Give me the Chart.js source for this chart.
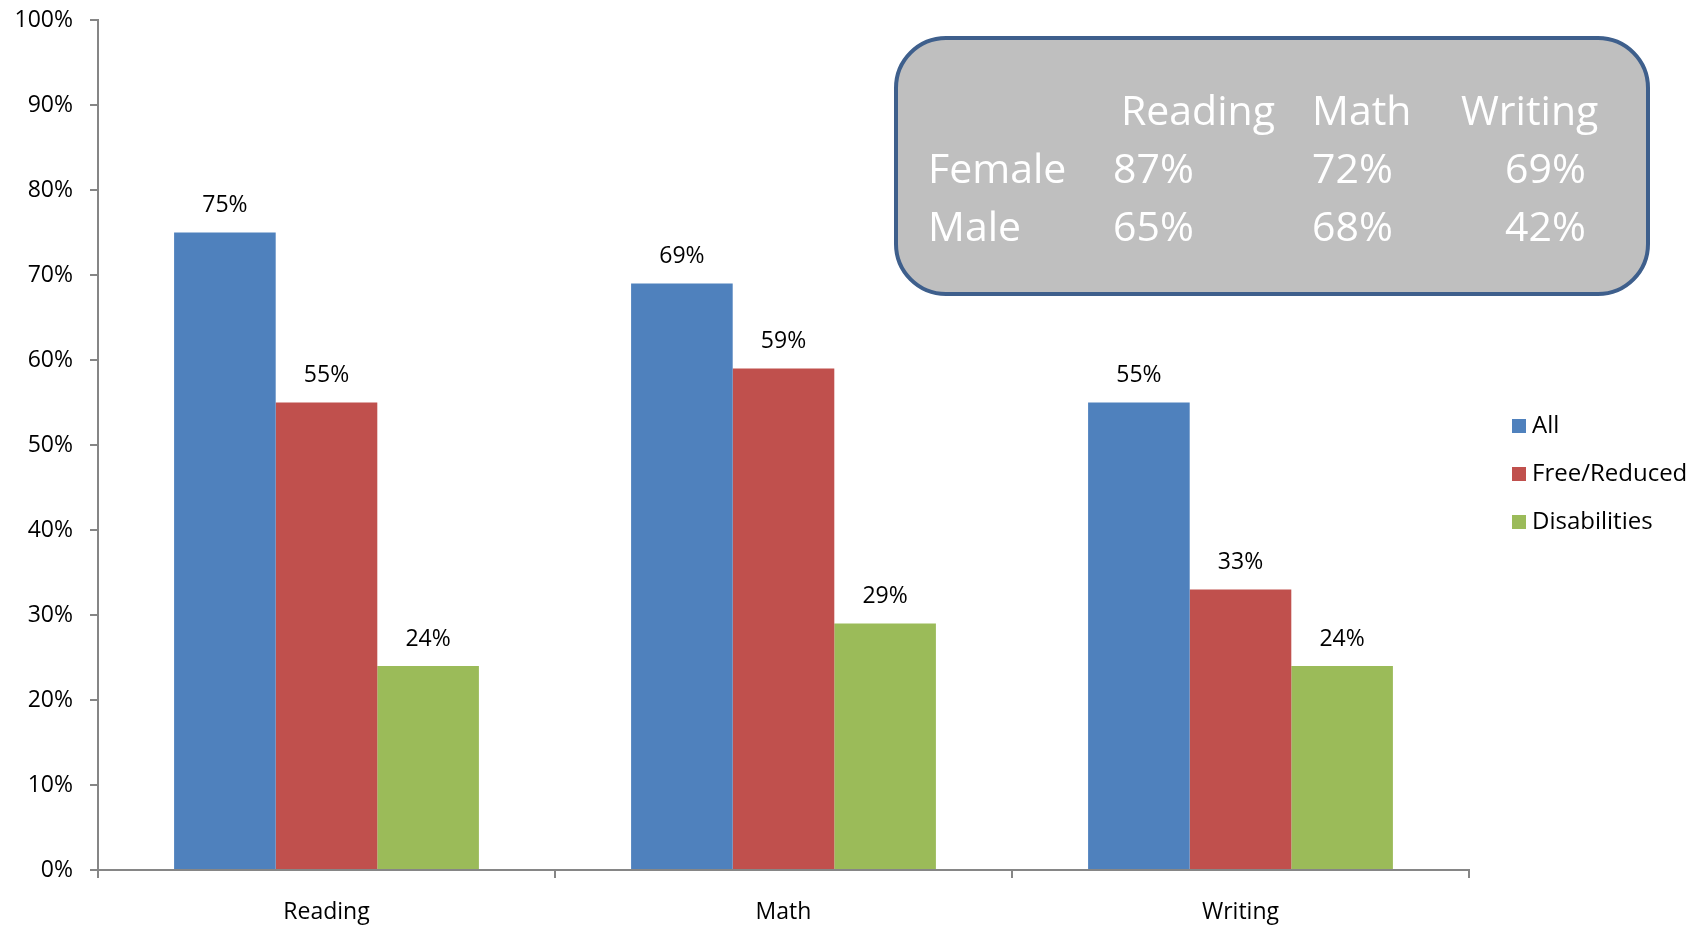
<!DOCTYPE html>
<html>
<head>
<meta charset="utf-8">
<title>Proficiency by group</title>
<script src="https://cdn.jsdelivr.net/npm/chart.js@4.4.1/dist/chart.umd.min.js"></script>
<style>
  html, body { margin: 0; padding: 0; background: #ffffff; }
  #wrap { width: 1706px; height: 929px; }
</style>
</head>
<body>
<div id="wrap"><canvas id="chart" width="1706" height="929"></canvas></div>
<script>
// categories and series
const subjects = ['Reading', 'Math', 'Writing'];
const allStudents = [75, 69, 55];
const freeReduced = [55, 59, 33];
const disabilities = [24, 29, 24];
const seriesNames = ['All', 'Free/Reduced', 'Disabilities'];
const seriesColors = ['#4f81bd', '#c0504d', '#9bbb59'];

// gender table inside the grey box
const tableHeader = ['Reading', 'Math', 'Writing'];
const tableRows = ['Female', 'Male'];
const femaleScores = ['87%', '72%', '69%'];
const maleScores = ['65%', '68%', '42%'];

const FONT = "'Open Sans', 'Noto Sans', sans-serif";

// labels above every bar
const barLabels = {
    id: 'barLabels',
    afterDatasetsDraw(chart) {
        const ctx = chart.ctx;
        ctx.save();
        ctx.font = '23px ' + FONT;
        ctx.fillStyle = '#000';
        ctx.textAlign = 'center';
        ctx.textBaseline = 'middle';
        chart.data.datasets.forEach((ds, i) => {
            chart.getDatasetMeta(i).data.forEach((bar, j) => {
                ctx.fillText(ds.data[j] + '%', bar.x, bar.y - 27);
            });
        });
        ctx.restore();
    }
};

// legend on the right, stacked vertically
const sideLegend = {
    id: 'sideLegend',
    afterDraw(chart) {
        const ctx = chart.ctx;
        ctx.save();
        ctx.font = '24px ' + FONT;
        ctx.textBaseline = 'middle';
        seriesNames.forEach((name, i) => {
            const y = 426 + i * 48;
            ctx.fillStyle = seriesColors[i];
            ctx.fillRect(1512, y - 7, 14, 14);
            ctx.fillStyle = '#000';
            ctx.fillText(name, 1532, y);
        });
        ctx.restore();
    }
};

// rounded grey box with female / male table
const genderBox = {
    id: 'genderBox',
    afterDraw(chart) {
        const ctx = chart.ctx;
        const x = 896, y = 38, w = 752, h = 256, r = 50;
        ctx.save();
        ctx.beginPath();
        ctx.roundRect(x, y, w, h, r);
        ctx.fillStyle = '#bfbfbf';
        ctx.fill();
        ctx.lineWidth = 4;
        ctx.strokeStyle = '#3e5f8c';
        ctx.stroke();

        ctx.font = '41px ' + FONT;
        ctx.fillStyle = '#ffffff';
        ctx.textBaseline = 'middle';
        const headX = [1121, 1312, 1461];
        const valX = [1113, 1312, 1505];
        tableHeader.forEach((t, i) => ctx.fillText(t, headX[i], 113));
        ctx.fillText(tableRows[0], 928, 171);
        ctx.fillText(tableRows[1], 928, 229);
        femaleScores.forEach((t, i) => ctx.fillText(t, valX[i], 171));
        maleScores.forEach((t, i) => ctx.fillText(t, valX[i], 229));
        ctx.restore();
    }
};

new Chart(document.getElementById('chart'), {
    type: 'bar',
    data: {
        labels: subjects,
        datasets: [
            { label: seriesNames[0], data: allStudents, backgroundColor: seriesColors[0] },
            { label: seriesNames[1], data: freeReduced, backgroundColor: seriesColors[1] },
            { label: seriesNames[2], data: disabilities, backgroundColor: seriesColors[2] }
        ]
    },
    options: {
        responsive: false,
        animation: false,
        layout: { padding: { top: 20, right: 237, left: 0, bottom: 0 } },
        datasets: { bar: { categoryPercentage: 0.667, barPercentage: 1.0 } },
        plugins: { legend: { display: false }, tooltip: { enabled: false } },
        scales: {
            y: {
                min: 0,
                max: 100,
                afterFit: (s) => { s.width = 98; s.paddingTop = 0; s.paddingBottom = 0; },
                ticks: {
                    stepSize: 10,
                    padding: 17,
                    color: '#000',
                    font: { family: FONT, size: 23 },
                    callback: (v) => v + '%'
                },
                grid: { drawOnChartArea: false, tickLength: 8, color: '#868686', lineWidth: 2 },
                border: { color: '#868686', width: 2 }
            },
            x: {
                afterFit: (s) => { s.height = 59; },
                ticks: {
                    padding: 21,
                    color: '#000',
                    font: { family: FONT, size: 23 }
                },
                grid: { drawOnChartArea: false, tickLength: 8, color: '#868686', lineWidth: 2 },
                border: { color: '#868686', width: 2 }
            }
        }
    },
    plugins: [barLabels, sideLegend, genderBox]
});
</script>
</body>
</html>
